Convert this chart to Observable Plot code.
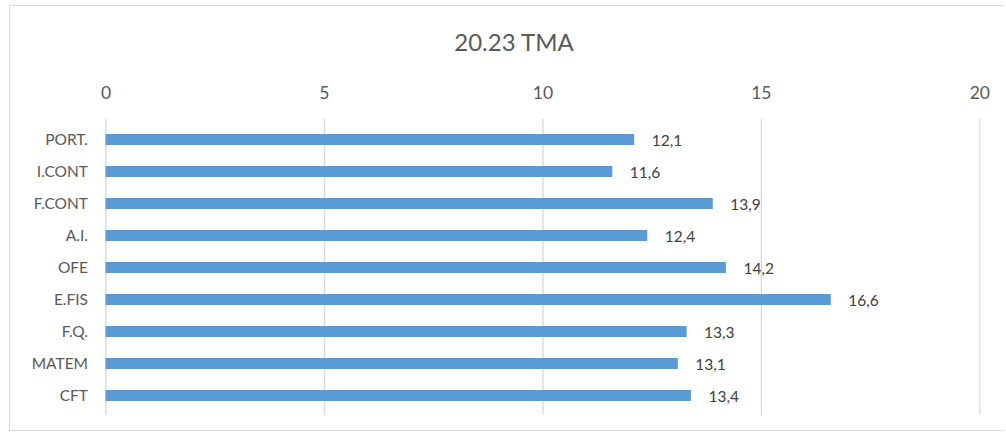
<!DOCTYPE html>
<html>
<head>
<meta charset="utf-8">
<script src="https://cdn.jsdelivr.net/npm/d3@7"></script>
<script src="https://cdn.jsdelivr.net/npm/@observablehq/plot@0.6"></script>
<style>
  html, body { margin: 0; padding: 0; background: #fff; }
  #wrap { position: relative; width: 1006px; height: 440px; overflow: hidden; font-family: Lato, "Open Sans", sans-serif; }
  #frame { position: absolute; left: 9px; top: 5px; width: 995px; height: 426px; border: 1px solid #d9d9d9; box-sizing: border-box; border-right: none; }
  #title { position: absolute; left: 0; top: 27px; width: 1028px; text-align: center; font-size: 24px; color: #595959; line-height: 30px; }
  #chart { position: absolute; left: 0; top: 0; }
</style>
</head>
<body>
<div id="wrap">
  <div id="frame"></div>
  <div id="title">20.23 TMA</div>
  <div id="chart"></div>
</div>
<script>
const categories = ["PORT.", "I.CONT", "F.CONT", "A.I.", "OFE", "E.FIS", "F.Q.", "MATEM", "CFT"];
const values = [12.1, 11.6, 13.9, 12.4, 14.2, 16.6, 13.3, 13.1, 13.4];
const xTicks = [0, 5, 10, 15, 20];

const data = categories.map((c, i) => ({category: c, value: values[i]}));
const fmt = v => v.toFixed(1).replace(".", ",");

const plot = Plot.plot({
  width: 1006,
  height: 440,
  marginTop: 119,
  marginBottom: 25,
  marginLeft: 105.5,
  marginRight: 26.7,
  style: {fontFamily: "Lato, 'Open Sans', sans-serif", background: "transparent", overflow: "visible"},
  x: {domain: [0, 20]},
  y: {domain: categories, paddingInner: 0.665, paddingOuter: 0.3325},
  marks: [
    Plot.gridX(xTicks, {stroke: "#d9d9d9", strokeOpacity: 1, strokeWidth: 1.3}),
    Plot.axisX({anchor: "top", ticks: xTicks, tickSize: 0, tickPadding: 21, fontSize: 17.5, color: "#595959", label: null}),
    Plot.axisY({tickSize: 0, tickPadding: 18, fontSize: 15.5, color: "#595959", label: null}),
    Plot.barX(data, {x: "value", y: "category", fill: "#5b9bd5"}),
    Plot.text(data, {x: "value", y: "category", text: d => fmt(d.value), dx: 17, dy: 1, textAnchor: "start", fontSize: 15.5, fill: "#404040"})
  ]
});
document.getElementById("chart").appendChild(plot);
</script>
</body>
</html>
